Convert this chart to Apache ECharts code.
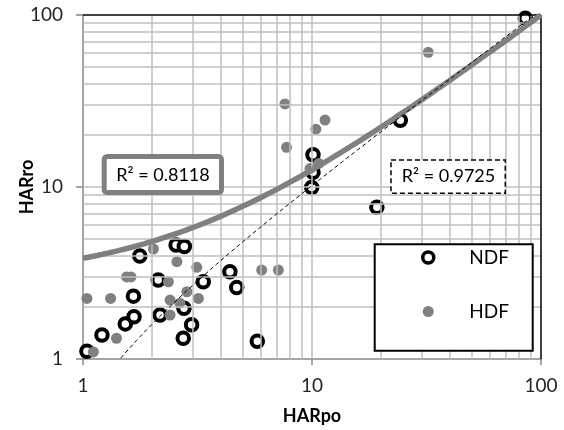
<!DOCTYPE html>
<html>
<head>
<meta charset="utf-8">
<script src="https://cdn.jsdelivr.net/npm/echarts@6/dist/echarts.min.js"></script>
<style>
  html, body { margin: 0; padding: 0; background: #fff; }
  #chart { width: 564px; height: 430px; }
</style>
</head>
<body>
<div id="chart"></div>
<script>
// NDF measurements (hollow black markers)
const ndfHARpo = [1.04, 1.21, 1.53, 1.67, 1.66, 1.77, 2.13, 2.17, 2.55, 2.77, 2.76, 2.98, 2.74, 3.35, 4.38, 4.69, 5.77, 10.1, 10.1, 9.97, 19.2, 24.3, 85.4];
const ndfHARro = [1.11, 1.38, 1.60, 1.76, 2.32, 3.97, 2.88, 1.80, 4.60, 4.51, 1.97, 1.58, 1.32, 2.81, 3.22, 2.60, 1.27, 15.4, 12.2, 9.93, 7.62, 24.4, 95.7];

// HDF measurements (filled grey markers)
const hdfHARpo = [1.11, 1.04, 1.32, 1.40, 1.55, 1.62, 2.03, 2.57, 2.36, 2.40, 2.40, 2.65, 2.84, 3.14, 3.19, 6.03, 7.13, 7.62, 7.74, 10.4, 11.4, 9.80, 10.7, 32.2];
const hdfHARro = [1.10, 2.25, 2.25, 1.32, 3.00, 3.00, 4.36, 3.68, 2.81, 2.20, 1.80, 2.11, 2.46, 3.41, 2.25, 3.29, 3.29, 30.4, 17.0, 21.7, 24.5, 12.8, 13.7, 60.7];

// Linear trend lines (y = slope * x + intercept) and their R² values
const hdfTrend = { slope: 0.971, intercept: 2.88, r2: '0.8118' };
const ndfTrend = { slope: 1.075, intercept: -0.56, r2: '0.9725' };

// Axis range and minor grid positions
const axisMin = 1, axisMax = 100;
const minorGrid = [2, 3, 4, 5, 6, 7, 8, 9, 10, 20, 30, 40, 50, 60, 70, 80, 90];

const FONT = 'Lato, "Noto Sans", sans-serif';

function pairs(xs, ys) { return xs.map((x, i) => [x, ys[i]]); }

// Sample a straight-line fit along the log x range so it bends correctly on log axes
function trendPoints(t) {
  const pts = [];
  const steps = 120;
  for (let i = 0; i <= steps; i++) {
    const x = Math.pow(10, Math.log10(axisMin) + (Math.log10(axisMax) - Math.log10(axisMin)) * i / steps);
    const y = t.slope * x + t.intercept;
    if (y > 0) pts.push([x, y]);
  }
  return pts;
}

const chart = echarts.init(document.getElementById('chart'), null, { renderer: 'canvas' });

const gridLineStyle = { color: '#bfbfbf', width: 1.5, type: 'solid' };

chart.setOption({
  animation: false,
  backgroundColor: '#fff',
  grid: { left: 83, top: 15, right: 23, bottom: 71, containLabel: false, outerBoundsMode: 'none' },
  xAxis: {
    type: 'log', logBase: 10, min: axisMin, max: axisMax,
    name: 'HARpo', nameLocation: 'middle', nameGap: 48, nameMoveOverlap: false,
    nameTextStyle: { fontFamily: FONT, fontSize: 18, fontWeight: 'bold', color: '#000' },
    axisLine: { show: true, lineStyle: { color: '#868686', width: 1.5 } },
    axisTick: { show: true, inside: false, length: 6, lineStyle: { color: '#868686', width: 1.5 } },
    axisLabel: { fontFamily: FONT, fontSize: 19, color: '#262626', margin: 17 },
    splitLine: { show: false },
    minorTick: { show: false }
  },
  yAxis: {
    type: 'log', logBase: 10, min: axisMin, max: axisMax,
    name: 'HARro', nameLocation: 'middle', nameGap: 47, nameRotate: 90, nameMoveOverlap: false,
    nameTextStyle: { fontFamily: FONT, fontSize: 18, fontWeight: 'bold', color: '#000' },
    axisLine: { show: true, lineStyle: { color: '#868686', width: 1.5 } },
    axisTick: { show: true, inside: false, length: 7, lineStyle: { color: '#868686', width: 1.5 } },
    axisLabel: { fontFamily: FONT, fontSize: 19, color: '#262626', margin: 20 },
    splitLine: { show: false },
    minorTick: { show: false }
  },
  legend: {
    orient: 'vertical',
    left: 421, top: 248,
    padding: 0,
    itemGap: 35,
    itemWidth: 30, itemHeight: 11,
    z: 20,
    textStyle: { fontFamily: FONT, fontSize: 19, color: '#000', padding: [0, 0, 0, 21] },
    data: [
      { name: 'NDF', itemStyle: { borderWidth: 3.5, borderColor: '#000', color: '#fff' } },
      { name: 'HDF' }
    ]
  },
  graphic: {
    elements: [
      // legend frame
      {
        type: 'rect', z: 12,
        shape: { x: 374.7, y: 244.3, width: 158, height: 106.4 },
        style: { fill: '#fff', stroke: '#000', lineWidth: 2 }
      },
      // R² label of the HDF fit
      {
        type: 'group', z: 30,
        children: [
          {
            type: 'rect', z: 30,
            shape: { x: 104.2, y: 156.5, width: 117.3, height: 36, r: 3 },
            style: { fill: '#fff', stroke: '#808080', lineWidth: 5 }
          },
          {
            type: 'text', z: 31,
            style: {
              x: 163, y: 175, text: 'R² = ' + hdfTrend.r2,
              textAlign: 'center', textVerticalAlign: 'middle',
              fontFamily: FONT, fontSize: 18, fill: '#000'
            }
          }
        ]
      },
      // R² label of the NDF fit
      {
        type: 'group', z: 30,
        children: [
          {
            type: 'rect', z: 30,
            shape: { x: 391, y: 160, width: 114.3, height: 33.3 },
            style: { fill: '#fff', stroke: '#000', lineWidth: 1.5, lineDash: [5, 3] }
          },
          {
            type: 'text', z: 31,
            style: {
              x: 448.5, y: 176.5, text: 'R² = ' + ndfTrend.r2,
              textAlign: 'center', textVerticalAlign: 'middle',
              fontFamily: FONT, fontSize: 18, fill: '#000'
            }
          }
        ]
      }
    ]
  },
  series: [
    {
      // minor/major grid lines and the plot frame
      name: 'grid', type: 'line', data: [], z: 1, silent: true,
      markLine: {
        silent: true, symbol: 'none', label: { show: false }, animation: false,
        lineStyle: gridLineStyle,
        data: minorGrid.map(v => ({ xAxis: v })).concat(minorGrid.map(v => ({ yAxis: v })))
          .concat([
            { xAxis: axisMax, lineStyle: { color: '#000', width: 1.5, type: 'solid' } },
            { yAxis: axisMax, lineStyle: { color: '#000', width: 1.5, type: 'solid' } }
          ])
      }
    },
    {
      name: 'NDF', type: 'scatter', z: 3,
      data: pairs(ndfHARpo, ndfHARro),
      symbol: 'circle', symbolSize: 11.5,
      itemStyle: { color: '#fff', borderColor: '#000', borderWidth: 4, opacity: 1 }
    },
    {
      name: 'HDF', type: 'scatter', z: 4,
      data: pairs(hdfHARpo, hdfHARro),
      symbol: 'circle', symbolSize: 11,
      itemStyle: { color: '#808080', opacity: 1 }
    },
    {
      name: 'HDF fit', type: 'line', z: 5, silent: true,
      data: trendPoints(hdfTrend), showSymbol: false, clip: true,
      lineStyle: { color: '#808080', width: 5.5 }
    },
    {
      name: 'NDF fit', type: 'line', z: 6, silent: true,
      data: trendPoints(ndfTrend), showSymbol: false, clip: true,
      lineStyle: { color: '#000', width: 1, type: [4, 3] }
    }
  ]
});
</script>
</body>
</html>
